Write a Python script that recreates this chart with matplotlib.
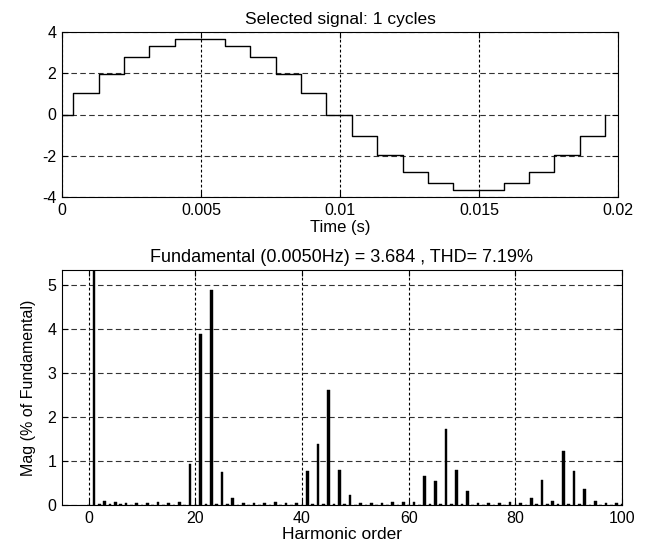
import matplotlib
matplotlib.use("Agg")
import matplotlib.pyplot as plt
import numpy as np

# ---- Data ----
step_times = [0.0, 0.0004, 0.00133, 0.00223, 0.00313, 0.00405, 0.00496, 0.00587,
              0.00678, 0.00769, 0.0086, 0.00951, 0.01043, 0.01134, 0.01225, 0.01316,
              0.01407, 0.01498, 0.01589, 0.0168, 0.01771, 0.01862, 0.01955]
step_levels = [0, 1.02, 1.96, 2.77, 3.34, 3.68, 3.68, 3.34, 2.77, 1.96, 1.02, 0,
               -1.02, -1.96, -2.77, -3.34, -3.68, -3.68, -3.34, -2.77, -1.96, -1.02, 0]

harmonic_order = list(range(0, 101))
harmonic_mag = [
    0.0, 100.0, 0.02, 0.10, 0.02, 0.07, 0.02, 0.05, 0.01, 0.04,   # 0-9
    0.01, 0.04, 0.01, 0.06, 0.01, 0.04, 0.01, 0.07, 0.01, 0.94,   # 10-19
    0.01, 3.90, 0.02, 4.90, 0.02, 0.75, 0.02, 0.16, 0.01, 0.04,   # 20-29
    0.01, 0.05, 0.01, 0.04, 0.01, 0.06, 0.01, 0.04, 0.01, 0.04,   # 30-39
    0.01, 0.78, 0.02, 1.40, 0.02, 2.62, 0.02, 0.80, 0.02, 0.23,   # 40-49
    0.01, 0.05, 0.01, 0.04, 0.01, 0.05, 0.01, 0.06, 0.01, 0.06,   # 50-59
    0.01, 0.07, 0.01, 0.66, 0.02, 0.55, 0.02, 1.74, 0.02, 0.80,   # 60-69
    0.02, 0.33, 0.01, 0.05, 0.01, 0.04, 0.01, 0.05, 0.01, 0.06,   # 70-79
    0.01, 0.05, 0.01, 0.15, 0.02, 0.58, 0.02, 0.10, 0.02, 1.23,   # 80-89
    0.02, 0.78, 0.02, 0.36, 0.01, 0.08, 0.01, 0.05, 0.01, 0.05,   # 90-99
    0.03]                                                         # 100

top_xticks = [0, 0.005, 0.01, 0.015, 0.02]
top_xticklabels = ["0", "0.005", "0.01", "0.015", "0.02"]
top_yticks = [-4, -2, 0, 2, 4]
bot_xticks = [0, 20, 40, 60, 80, 100]
bot_yticks = [0, 1, 2, 3, 4, 5]

plt.rcParams['font.family'] = ['Liberation Sans', 'DejaVu Sans']
plt.rcParams['font.size'] = 11
plt.rcParams['axes.unicode_minus'] = False

W, H = 652, 544
fig = plt.figure(figsize=(W / 100, H / 100), dpi=100)

def rect(x0, y0, x1, y1):
    return [x0 / W, 1 - y1 / H, (x1 - x0) / W, (y1 - y0) / H]

ax1 = fig.add_axes(rect(62, 32, 618, 197))
ax2 = fig.add_axes(rect(62, 270, 622, 505))

def style(ax):
    for s in ax.spines.values():
        s.set_color('black')
        s.set_linewidth(0.8)
    ax.tick_params(direction='in', length=4, width=0.8, colors='black',
                   top=True, right=True, labelsize=11.5, pad=4)
    ax.set_axisbelow(True)
    ax.xaxis.grid(True, color='black', linestyle=(0, (2.5, 2)), linewidth=0.8)
    ax.yaxis.grid(True, color='#333333', linestyle=(0, (5, 3)), linewidth=0.8)

# Top: step signal
ax1.step(step_times, step_levels, where='post', color='black', linewidth=1.0)
ax1.set_xlim(0, 0.02)
ax1.set_ylim(-4, 4)
ax1.set_xticks(top_xticks)
ax1.set_xticklabels(top_xticklabels)
ax1.set_yticks(top_yticks)
ax1.set_title("Selected signal: 1 cycles", fontsize=12.5, pad=6)
ax1.set_xlabel("Time (s)", fontsize=12, labelpad=2)
style(ax1)

# Bottom: harmonic spectrum
ax2.bar(harmonic_order, harmonic_mag, width=0.55, color='black', edgecolor='black', linewidth=0.3)
ax2.set_xlim(-5, 100)
ax2.set_ylim(0, 5.35)
ax2.set_xticks(bot_xticks)
ax2.set_yticks(bot_yticks)
ax2.set_title("Fundamental (0.0050Hz) = 3.684 , THD= 7.19%", fontsize=13, pad=6)
ax2.set_xlabel("Harmonic order", fontsize=12.5, labelpad=1)
ax2.set_ylabel("Mag (% of Fundamental)", fontsize=11.5, labelpad=8)
style(ax2)

fig.savefig("out.png", dpi=100)
